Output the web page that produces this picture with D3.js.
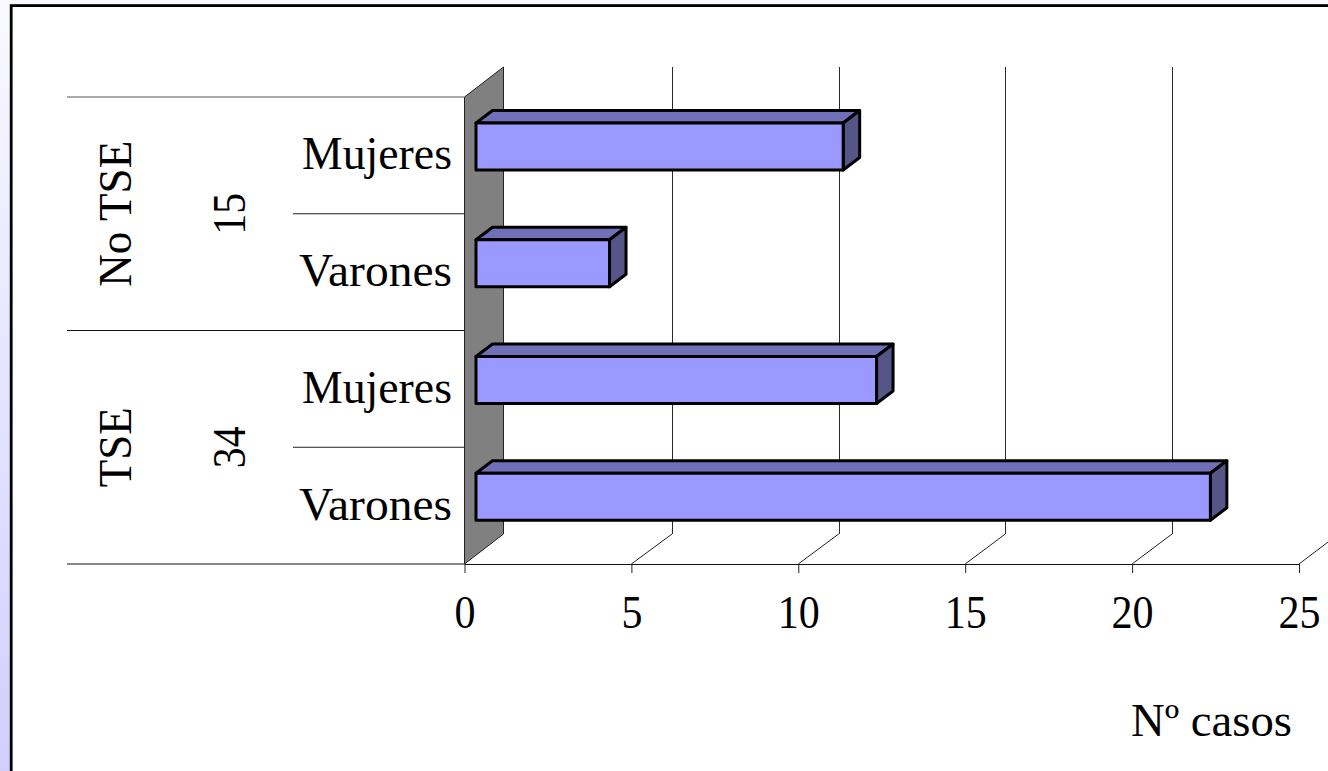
<!DOCTYPE html>
<html>
<head>
<meta charset="utf-8">
<script src="https://cdn.jsdelivr.net/npm/d3@7"></script>
<style>
html, body { margin: 0; padding: 0; background: #fff; overflow: hidden; }
svg { display: block; }
text { font-family: "Liberation Serif", serif; fill: #000; }
</style>
</head>
<body>
<svg id="chart" width="1328" height="771"></svg>
<script>
// Cases by sex within each diagnosis group
const rowLabels = ["Mujeres", "Varones", "Mujeres", "Varones"];
const rowGroups = ["No TSE", "No TSE", "TSE", "TSE"];
const rowValues = [11, 4, 12, 22];
const groupNames = ["No TSE", "TSE"];
const groupTotals = [15, 34];
const xTicks = [0, 5, 10, 15, 20, 25];
const xTitle = "Nº casos";

const svg = d3.select("#chart");
const W = 1328, H = 771;

// Lavender page background behind the white panel
const defs = svg.append("defs");
const grad = defs.append("linearGradient").attr("id", "page")
  .attr("x1", 0).attr("y1", 0).attr("x2", 0).attr("y2", 1);
grad.append("stop").attr("offset", 0).attr("stop-color", "#f9f9ff");
grad.append("stop").attr("offset", 1).attr("stop-color", "#d2ceff");
svg.append("rect").attr("width", W).attr("height", H).attr("fill", "url(#page)");
svg.append("rect").attr("x", 11.2).attr("y", 5.6).attr("width", W + 20).attr("height", H + 20)
  .attr("fill", "#fff").attr("stroke", "#000").attr("stroke-width", 2.8);

// Scales: front floor edge, and the same values on the back wall
const x = d3.scaleLinear().domain([0, 25]).range([464.5, 1299]);
const xBack = d3.scaleLinear().domain([5, 20]).range([672, 1172]);
const y = d3.scaleBand().domain(d3.range(rowLabels.length)).range([97, 564]);

// Oblique offsets of the 3D wall/floor and of the bars
const wallDx = 39, wallDy = -30;
const barDx = 16.5, barDy = -12.5;
const barStart = 11.5, barInset = 26, barHeight = 47;
const x0 = x(0), yTop = y.range()[0], yBot = y.range()[1];

// Back wall gridlines and floor diagonals
const gridTicks = xTicks.slice(1);
svg.append("g").selectAll("line").data(gridTicks.slice(0, -1)).join("line")
  .attr("x1", d => Math.round(xBack(d)) + 0.5).attr("x2", d => Math.round(xBack(d)) + 0.5)
  .attr("y1", yTop + wallDy).attr("y2", yBot + wallDy)
  .attr("stroke", "#2a2a2a").attr("stroke-width", 1);
svg.append("g").selectAll("line").data(gridTicks).join("line")
  .attr("x1", d => x(d)).attr("y1", yBot)
  .attr("x2", d => xBack(d)).attr("y2", yBot + wallDy)
  .attr("stroke", "#222").attr("stroke-width", 1);

// Side wall
svg.append("path")
  .attr("d", d3.line()([[x0, yTop], [x0 + wallDx, yTop + wallDy], [x0 + wallDx, yBot + wallDy], [x0, yBot]]) + "Z")
  .attr("fill", "#808080").attr("stroke", "#222").attr("stroke-width", 1);

// Group and row separators on the category side
const catLeft = 67, subLeft = 293;
const seps = svg.append("g").attr("stroke-width", 1.2);
[yTop, y(2), yBot].forEach((v, i) => seps.append("line")
  .attr("x1", catLeft).attr("x2", x0).attr("y1", v).attr("y2", v)
  .attr("stroke", i === 0 ? "#555" : "#111"));
[y(1), y(3)].forEach(v => seps.append("line")
  .attr("x1", subLeft).attr("x2", x0).attr("y1", v).attr("y2", v).attr("stroke", "#222"));

// Bars: top, side and front faces
const bars = svg.append("g").selectAll("g").data(rowValues).join("g");
const face = (sel, fill, pts) => sel.append("path")
  .attr("d", (d, i) => d3.line()(pts(d, i)) + "Z")
  .attr("fill", fill).attr("stroke", "#000").attr("stroke-width", 3).attr("stroke-linejoin", "round");
const bx0 = x0 + barStart;
const bx1 = d => x(d) + barStart;
const by = i => y(i) + barInset;
face(bars, "#7070b8", (d, i) => [[bx0, by(i)], [bx0 + barDx, by(i) + barDy], [bx1(d) + barDx, by(i) + barDy], [bx1(d), by(i)]]);
face(bars, "#555588", (d, i) => [[bx1(d), by(i)], [bx1(d) + barDx, by(i) + barDy], [bx1(d) + barDx, by(i) + barDy + barHeight], [bx1(d), by(i) + barHeight]]);
bars.append("rect")
  .attr("x", bx0).attr("y", (d, i) => by(i))
  .attr("width", d => x(d) - x0).attr("height", barHeight)
  .attr("fill", "#9999ff").attr("stroke", "#000").attr("stroke-width", 3).attr("stroke-linejoin", "round");

// Value axis along the floor front edge
const axis = svg.append("g").attr("transform", `translate(0,${yBot})`)
  .call(d3.axisBottom(x).tickValues(xTicks).tickSize(9).tickPadding(22).tickSizeOuter(0));
axis.select(".domain").attr("stroke", "#111").attr("stroke-width", 1.2);
axis.selectAll(".tick line").attr("stroke", "#222");
axis.selectAll(".tick text")
  .attr("font-size", 46).attr("font-family", "Liberation Serif").attr("fill", "#000")
  .attr("textLength", d => String(d).length * 21).attr("lengthAdjust", "spacingAndGlyphs");

// Row labels
svg.append("g").selectAll("text").data(rowLabels).join("text")
  .attr("x", 452).attr("y", (d, i) => y(i) + y.bandwidth() / 2 + 14)
  .attr("text-anchor", "end").attr("font-size", 46)
  .attr("textLength", d => d === "Mujeres" ? 150 : 153).attr("lengthAdjust", "spacingAndGlyphs")
  .text(d => d);

// Rotated group names and totals
const groupCenter = g => {
  const idx = d3.range(rowGroups.length).filter(i => rowGroups[i] === g);
  return (y(idx[0]) + y(idx[idx.length - 1]) + y.bandwidth()) / 2;
};
const rotated = (px, text, g, len) => svg.append("text")
  .attr("transform", `translate(${px},${groupCenter(g)}) rotate(-90)`)
  .attr("text-anchor", "middle").attr("font-size", 47)
  .attr("textLength", len).attr("lengthAdjust", "spacingAndGlyphs").text(text);
groupNames.forEach((g, i) => {
  rotated(131, g, g, g === "TSE" ? 80 : 146);
  rotated(245, groupTotals[i], g, 42);
});

// Value axis title
svg.append("text").attr("x", 1292).attr("y", 736).attr("text-anchor", "end")
  .attr("font-size", 46).attr("textLength", 161).attr("lengthAdjust", "spacingAndGlyphs").text(xTitle);
</script>
</body>
</html>
